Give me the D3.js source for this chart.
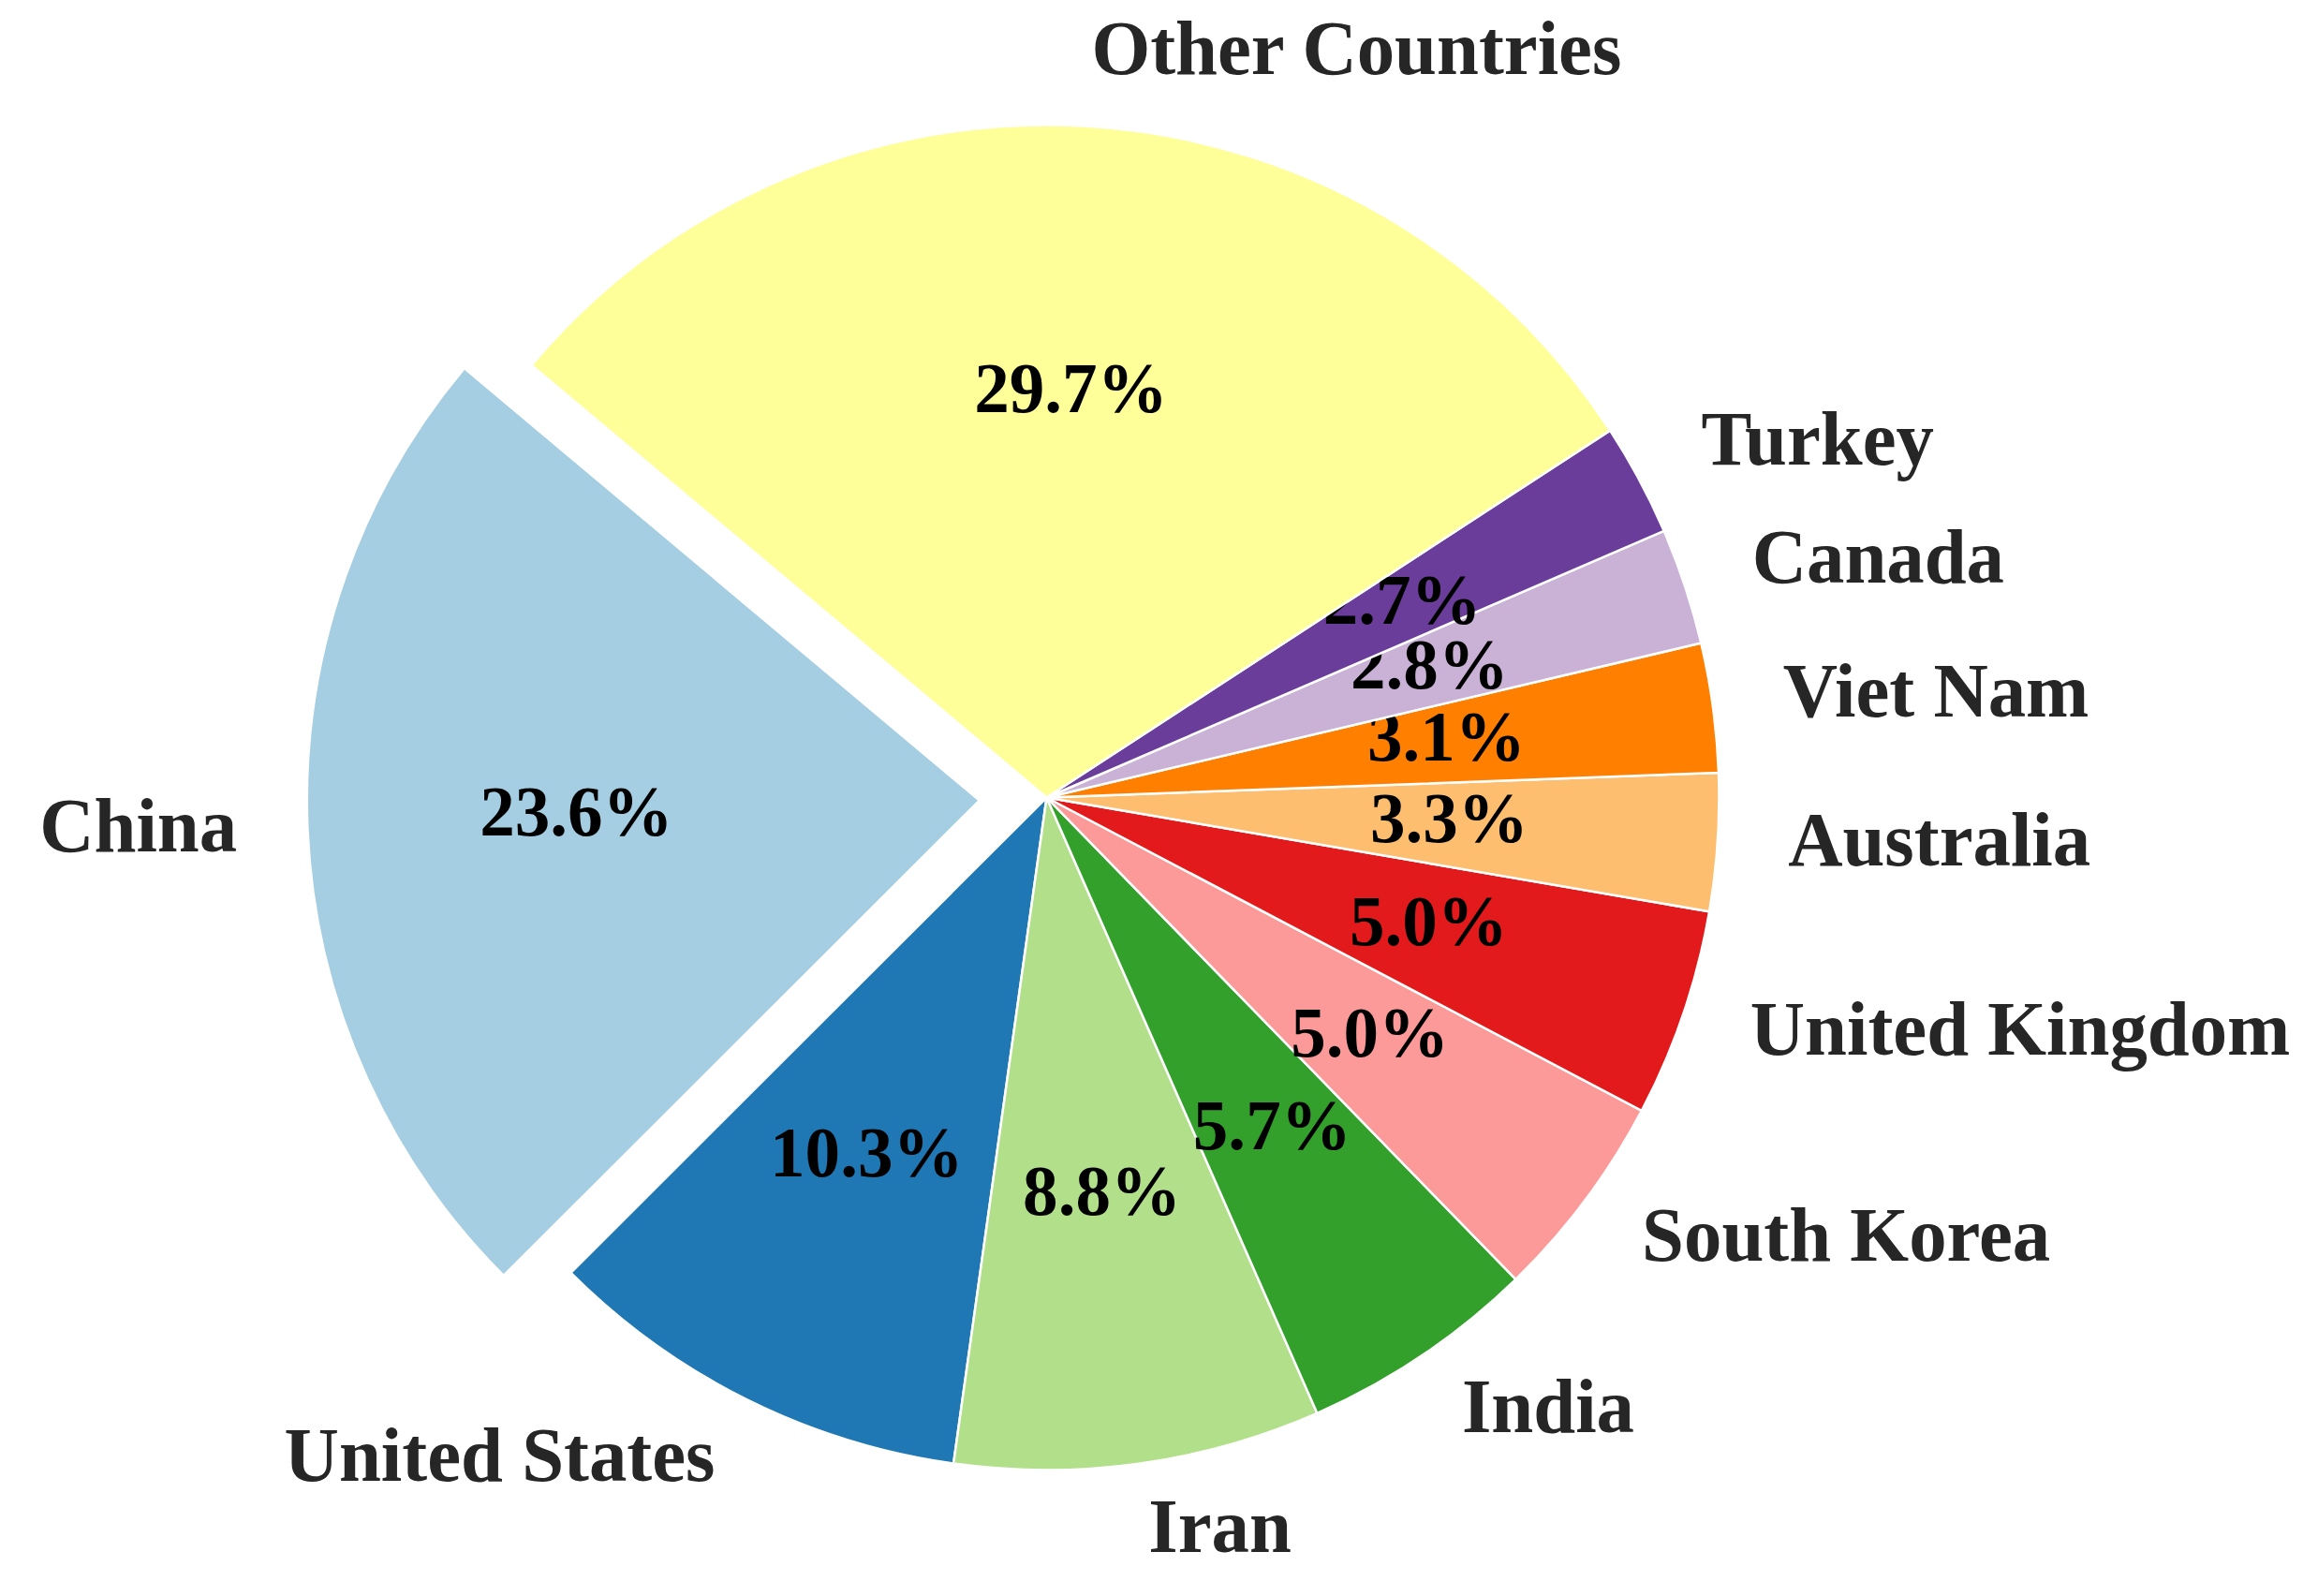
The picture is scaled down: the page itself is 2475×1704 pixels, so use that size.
<!DOCTYPE html>
<html>
<head>
<meta charset="utf-8">
<script src="https://cdn.jsdelivr.net/npm/d3@7"></script>
<style>
  html, body { margin: 0; padding: 0; background: #ffffff; }
  svg { display: block; }
</style>
</head>
<body>
<svg id="chart" width="2475" height="1704"></svg>
<script>
// ---- data ----
const countries = ["China", "United States", "Iran", "India", "South Korea",
  "United Kingdom", "Australia", "Viet Nam", "Canada", "Turkey", "Other Countries"];
const shares = [23.6, 10.3, 8.8, 5.7, 5.0, 5.0, 3.3, 3.1, 2.8, 2.7, 29.7];
const explodeFlags = [0.1, 0, 0, 0, 0, 0, 0, 0, 0, 0, 0];
const palette = ["#a6cee3", "#1f78b4", "#b2df8a", "#33a02c", "#fb9a99",
  "#e31a1c", "#fdbf6f", "#ff7f00", "#cab2d6", "#6a3d9a", "#ffff99"];

// ---- layout ----
const W = 2475, H = 1704;
const cx = 1117.5, cy = 851.5, R = 718;
const startDeg = 140; // matplotlib-style start angle, counterclockwise
const labelDist = 1.105, pctDist = 0.6;
const labelFont = 82, pctFont = 77, sx = 0.985, sxPct = 0.975;

const svg = d3.select("#chart");
const g = svg.append("g").attr("transform", `translate(${cx},${cy})`);

const toRad = d => d * Math.PI / 180;
const a0 = toRad(90 - startDeg);
const pie = d3.pie().sort(null).value(d => d.v)
  .startAngle(a0).endAngle(a0 - 2 * Math.PI);
const data = countries.map((c, i) => ({ name: c, v: shares[i], ex: explodeFlags[i], col: palette[i] }));
const arcs = pie(data);

const arc = d3.arc().innerRadius(0).outerRadius(R);
const lblArc = d3.arc().innerRadius(R * labelDist).outerRadius(R * labelDist);
const pctArc = d3.arc().innerRadius(R * pctDist).outerRadius(R * pctDist);

function offset(d) {
  const m = (d.startAngle + d.endAngle) / 2;
  const k = d.data.ex * R;
  return [Math.sin(m) * k, -Math.cos(m) * k];
}

const wedges = g.selectAll("g.wedge").data(arcs).enter().append("g")
  .attr("class", "wedge")
  .attr("transform", d => { const o = offset(d); return `translate(${o[0]},${o[1]})`; });

wedges.append("path")
  .attr("d", arc)
  .attr("fill", d => d.data.col)
  .attr("stroke", "#ffffff")
  .attr("stroke-width", 2.5)
  .attr("stroke-linejoin", "round");

// outer labels
wedges.append("g")
  .attr("transform", d => { const p = lblArc.centroid(d); return `translate(${p[0]},${p[1]}) scale(${sx},1)`; })
  .append("text")
  .attr("text-anchor", d => lblArc.centroid(d)[0] < 0 ? "end" : "start")
  .attr("dy", "0.24em")
  .attr("font-family", "'Liberation Serif', 'Times New Roman', serif")
  .attr("font-weight", "bold")
  .attr("font-size", labelFont)
  .attr("fill", "#262626")
  .text(d => d.data.name);

// percentage labels
wedges.append("g")
  .attr("transform", d => { const p = pctArc.centroid(d); return `translate(${p[0]},${p[1]}) scale(${sxPct},1)`; })
  .append("text")
  .attr("text-anchor", "middle")
  .attr("dy", "0.24em")
  .attr("font-family", "'Liberation Serif', 'Times New Roman', serif")
  .attr("font-weight", "bold")
  .attr("font-size", pctFont)
  .attr("fill", "#000000")
  .text(d => d3.format(".1f")(d.data.v) + "%");
</script>
</body>
</html>
